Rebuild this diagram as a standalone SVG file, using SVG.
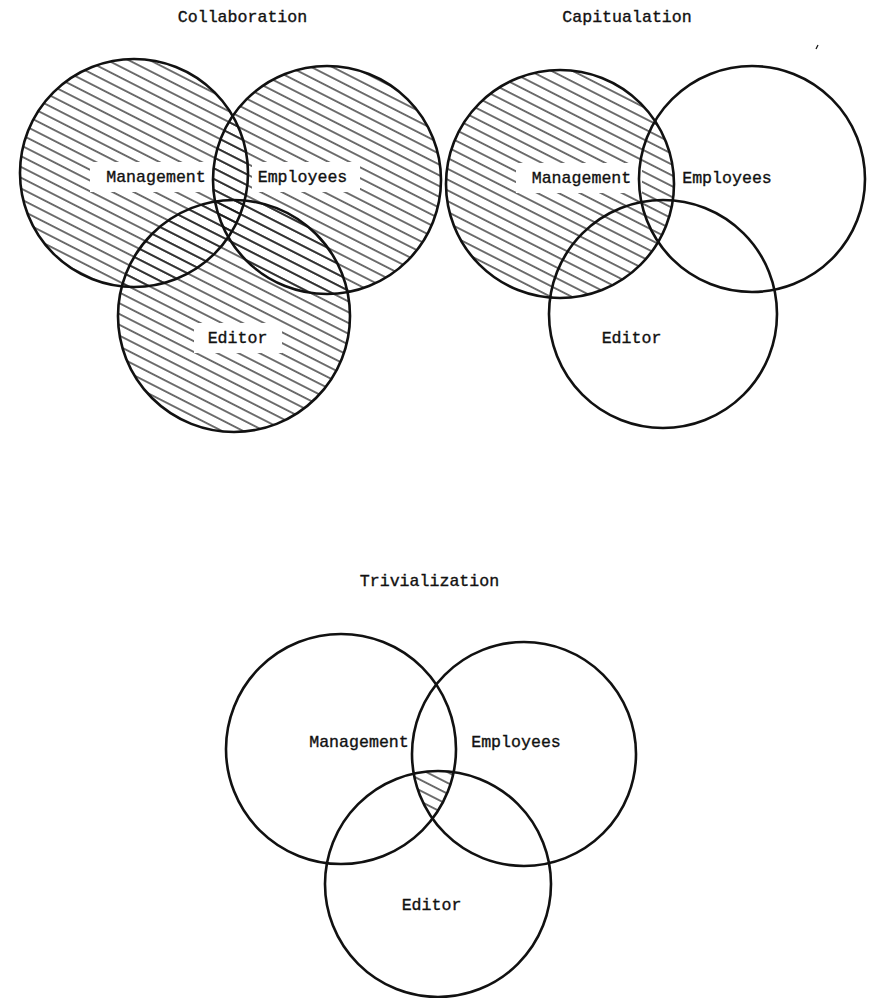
<svg xmlns="http://www.w3.org/2000/svg" width="871" height="998" viewBox="0 0 871 998">
<style>
.c{fill:none;stroke:#111;stroke-width:2.6}
.h{fill:url(#hatch)}
.t{font-family:"Liberation Mono","DejaVu Sans Mono",monospace;font-size:16.6px;fill:#111;stroke:#111;stroke-width:0.35;text-anchor:middle}
.w{fill:#fff}
</style>
<defs>
<pattern id="hatch" patternUnits="userSpaceOnUse" width="30" height="9.6" patternTransform="rotate(27)">
<line x1="0" y1="4.8" x2="30" y2="4.8" stroke="#111" stroke-width="1.2"/>
</pattern>
<clipPath id="triM"><circle cx="341" cy="749" r="115"/></clipPath>
<clipPath id="triE"><circle cx="524" cy="754" r="112"/></clipPath>
<clipPath id="triD"><circle cx="438" cy="884" r="113"/></clipPath>
</defs>

<g id="collaboration">
<g id="collab-hatch">
<circle class="h" cx="134" cy="173" r="114"/>
<circle class="h" cx="327" cy="180" r="114"/>
<circle class="h" cx="234" cy="316" r="116"/>
<rect class="w" x="90" y="162" width="124" height="30"/>
<rect class="w" x="252" y="162" width="108" height="30"/>
<rect class="w" x="194" y="323" width="88" height="30"/>
</g>
<g id="collab-management"><circle class="c" cx="134" cy="173" r="114"/><text class="t" x="156" y="182">Management</text></g>
<g id="collab-employees"><circle class="c" cx="327" cy="180" r="114"/><text class="t" x="302.5" y="182">Employees</text></g>
<g id="collab-editor"><circle class="c" cx="234" cy="316" r="116"/><text class="t" x="237.5" y="343">Editor</text></g>
<text class="t" x="242.5" y="22">Collaboration</text>
</g>

<g id="capitulation">
<g id="capit-hatch">
<circle class="h" cx="560" cy="184" r="114"/>
<rect class="w" x="516" y="163" width="126" height="30"/>
</g>
<g id="capit-management"><circle class="c" cx="560" cy="184" r="114"/><text class="t" x="581.5" y="183">Management</text></g>
<g id="capit-employees"><circle class="c" cx="752" cy="179" r="113"/><text class="t" x="727" y="183">Employees</text></g>
<g id="capit-editor"><circle class="c" cx="663" cy="314" r="114"/><text class="t" x="631.5" y="343">Editor</text></g>
<text class="t" x="627" y="22">Capitualation</text>
<line x1="816" y1="49" x2="818" y2="45" stroke="#111" stroke-width="1.2"/>
</g>

<g id="trivialization">
<g clip-path="url(#triD)"><g clip-path="url(#triE)"><rect class="h" x="226" y="635" width="231" height="230" clip-path="url(#triM)"/></g></g>
<g id="triv-management"><circle class="c" cx="341" cy="749" r="115"/><text class="t" x="359" y="747">Management</text></g>
<g id="triv-employees"><circle class="c" cx="524" cy="754" r="112"/><text class="t" x="516" y="747">Employees</text></g>
<g id="triv-editor"><circle class="c" cx="438" cy="884" r="113"/><text class="t" x="431.5" y="910">Editor</text></g>
<text class="t" x="429.5" y="586">Trivialization</text>
</g>
</svg>
